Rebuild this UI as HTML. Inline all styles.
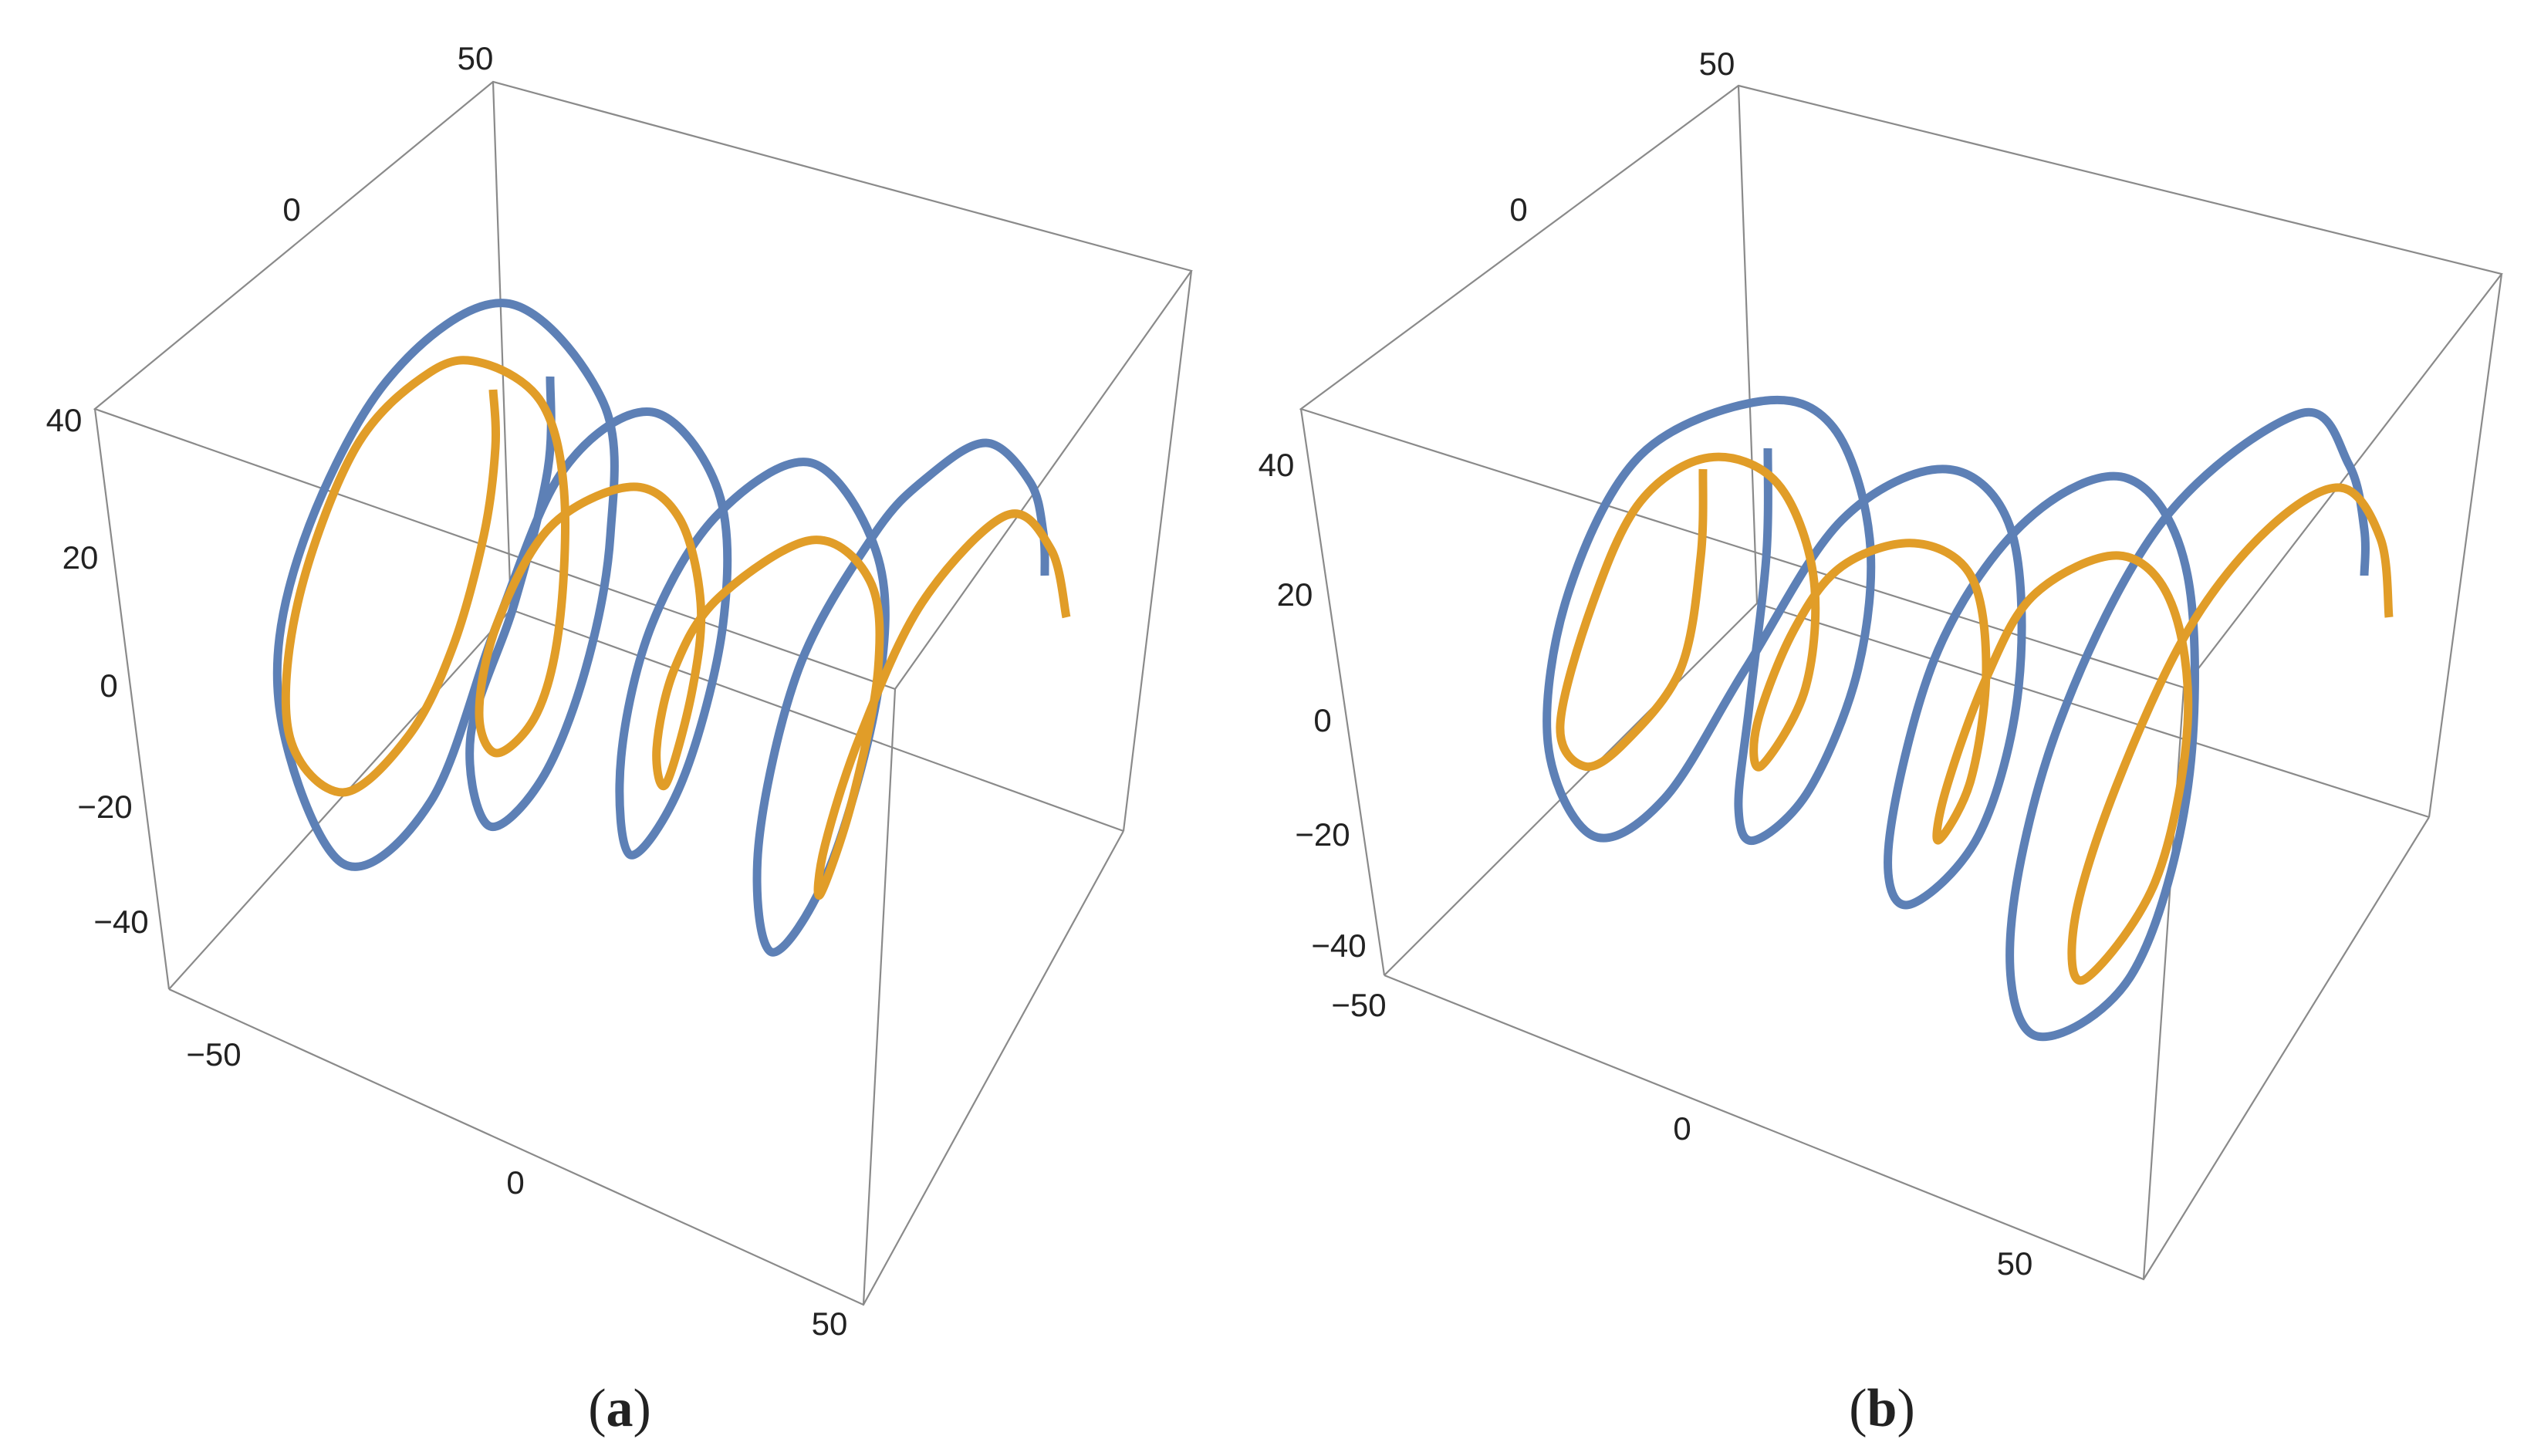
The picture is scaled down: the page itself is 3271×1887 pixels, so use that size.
<!DOCTYPE html>
<html><head><meta charset="utf-8"><style>
html,body{margin:0;padding:0;background:#fff;}
svg{display:block;}
text{font-family:"Liberation Sans",sans-serif;fill:#222;}
</style></head><body>
<svg id="s" width="3271" height="1887" viewBox="0 0 3271 1887" xmlns="http://www.w3.org/2000/svg">
<rect width="3271" height="1887" fill="#fff"/>
<g stroke="#8a8a8a" stroke-width="2.2" fill="none">
<!-- panel a box -->
<path d="M123,530 L639,106 L1544,351 L1160,893 Z"/>
<path d="M219,1282 L1119,1691 L1456,1077"/>
<path d="M1456,1077 L662,790 L219,1282"/>
<path d="M123,530 L219,1282 M639,106 L662,790 M1544,351 L1456,1077 M1160,893 L1119,1691"/>
<!-- panel b box -->
<path d="M1686,530 L2253,111 L3242,355 L2830,891 Z"/>
<path d="M1794,1264 L2778,1658 L3148,1059"/>
<path d="M3148,1059 L2277,782 L1794,1264"/>
<path d="M1686,530 L1794,1264 M2253,111 L2277,782 M3242,355 L3148,1059 M2830,891 L2778,1658"/>
</g>
<g id="curves" fill="none" stroke-width="11" stroke-linecap="butt" stroke-linejoin="round"></g>
<g font-size="42" text-anchor="middle">
<text x="616" y="90">50</text>
<text x="378" y="286">0</text>
<text x="83" y="559">40</text>
<text x="104" y="737">20</text>
<text x="141" y="903">0</text>
<text x="136" y="1060">−20</text>
<text x="157" y="1209">−40</text>
<text x="277" y="1381">−50</text>
<text x="668" y="1547">0</text>
<text x="1075" y="1730">50</text>
<text x="2225" y="97">50</text>
<text x="1968" y="286">0</text>
<text x="1654" y="617">40</text>
<text x="1678" y="785">20</text>
<text x="1714" y="948">0</text>
<text x="1714" y="1096">−20</text>
<text x="1735" y="1240">−40</text>
<text x="1761" y="1317">−50</text>
<text x="2180" y="1477">0</text>
<text x="2611" y="1652">50</text>
</g>
<g font-size="70" text-anchor="middle" style="font-family:'Liberation Serif',serif">
<text x="803" y="1848" style="font-family:'Liberation Serif',serif">(<tspan font-weight="bold">a</tspan>)</text>
<text x="2439" y="1848" style="font-family:'Liberation Serif',serif">(<tspan font-weight="bold">b</tspan>)</text>
</g>
</svg>
<script>
function cr(p){var d="M"+p[0][0]+","+p[0][1];for(var i=0;i<p.length-1;i++){var p0=p[i-1]||p[i],p1=p[i],p2=p[i+1],p3=p[i+2]||p2;
var c1=[p1[0]+(p2[0]-p0[0])/6,p1[1]+(p2[1]-p0[1])/6],c2=[p2[0]-(p3[0]-p1[0])/6,p2[1]-(p3[1]-p1[1])/6];
d+=" C"+c1[0].toFixed(1)+","+c1[1].toFixed(1)+" "+c2[0].toFixed(1)+","+c2[1].toFixed(1)+" "+p2[0]+","+p2[1];}return d;}
var blueA=[[713,488],[710,608],[667,781],[610,953],[633,1070],[702,1010],[759,867],[791,694],[782,522],[656,393],[501,494],[386,723],[363,924],[444,1119],[558,1039],[644,809],[731,608],[845,534],[931,637],[937,809],[885,1010],[817,1108],[805,981],[845,809],[931,666],[1052,600],[1138,723],[1138,895],[1075,1125],[1000,1234],[983,1096],[1035,867],[1132,694],[1200,620],[1278,574],[1335,625],[1352,690],[1354,746]];
var orA=[[639,505],[642,580],[627,694],[587,838],[530,953],[444,1027],[375,953],[386,781],[461,580],[558,482],[627,471],[702,522],[731,637],[725,809],[696,924],[644,976],[621,924],[644,809],[713,683],[817,631],[880,671],[908,781],[897,895],[863,1016],[851,970],[874,867],[931,775],[1052,700],[1127,752],[1138,867],[1104,1039],[1063,1159],[1069,1096],[1115,953],[1195,781],[1304,668],[1362,712],[1382,800]];
function cb(a){return a.map(function(q){return [Math.round(1636+1.0427*q[0]),Math.round(1.2035*q[1])];});}
var blueB=cb([[628,483],[626,600],[605,760],[592,870],[612,905],[680,850],[740,720],[755,580],[710,460],[620,432],[470,490],[380,640],[355,800],[410,900],[500,860],[600,720],[720,560],[850,505],[930,570],[940,740],[890,900],[800,975],[780,900],[840,700],[950,560],[1075,515],[1150,620],[1150,850],[1080,1050],[960,1115],[930,1000],[990,780],[1120,560],[1290,445],[1350,500],[1370,570],[1370,620]]);
var orB=cb([[548,505],[545,600],[520,720],[450,800],[400,825],[370,780],[410,650],[470,540],[555,493],[640,520],[685,620],[675,740],[620,825],[615,780],[660,680],[720,610],[810,585],[880,620],[900,720],[880,840],[840,905],[850,850],[900,730],[960,640],[1065,598],[1130,650],[1150,780],[1110,950],[1020,1055],[1010,990],[1060,850],[1150,680],[1250,570],[1340,525],[1390,580],[1400,665]]);
var g=document.getElementById("curves"),ns="http://www.w3.org/2000/svg";
[[blueA,"#5d80b6"],[orA,"#e19d28"],[blueB,"#5d80b6"],[orB,"#e19d28"]].forEach(function(c){var p=document.createElementNS(ns,"path");p.setAttribute("d",cr(c[0]));p.setAttribute("stroke",c[1]);g.appendChild(p);});
</script>
</body></html>
